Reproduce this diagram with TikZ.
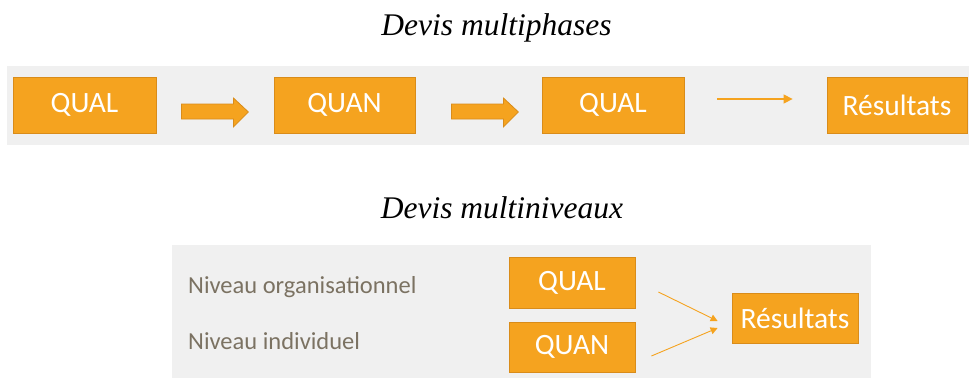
\documentclass[tikz,border=0pt]{standalone}
\usepackage{fontspec}
\setmainfont{Liberation Serif}
\newfontfamily\boxfont{Carlito}
\usetikzlibrary{calc,arrows.meta}
\definecolor{boxfill}{HTML}{F5A31F}
\definecolor{boxline}{HTML}{D98C1A}
\definecolor{panel}{HTML}{F0F0F0}
\definecolor{lvltext}{HTML}{7B7262}
\begin{document}
\begin{tikzpicture}[x=1pt,y=-1pt,
  obox/.style={draw=boxline, line width=0.8pt, fill=boxfill, text=white,
    font=\boxfont\fontsize{29.5}{31}\selectfont, inner sep=0pt, anchor=center},
  blockarrow/.style={draw=boxline, line width=0.8pt, fill=boxfill, line join=miter},
  thinarrow/.style={draw=boxfill, line width=1.2pt, -{Triangle[length=9pt,width=9pt]}},
  title/.style={font=\itshape\fontsize{31.5}{34}\selectfont, anchor=base},
  lvl/.style={font=\boxfont\fontsize{24.5}{26}\selectfont, text=lvltext, anchor=base west, inner sep=0pt}]
\useasboundingbox (0,0) rectangle (969,378);
% panels
\fill[panel] (7,66) rectangle (969,145);
\fill[panel] (172,245) rectangle (871,378);
% titles
\node[title] (t1) at (496.5,35) {Devis multiphases};
\node[title] (t2) at (502,218) {Devis multiniveaux};
% top row
\node[obox, minimum width=143pt, minimum height=56pt] (q1) at (84.5,105) {QUAL};
\node[obox, minimum width=141pt, minimum height=56pt] (n1) at (344.5,105) {QUAN};
\node[obox, minimum width=142pt, minimum height=56pt] (q2) at (613,105) {QUAL};
\node[obox, minimum width=140pt, minimum height=56pt] (r1) at (897,105) {Résultats};
% block arrows
\foreach \a/\s in {q1/25, n1/36}{
  \draw[blockarrow] ($(\a.east)+(\s,-1)$) -- ($(\a.east)+(\s+52,-1)$) -- ($(\a.east)+(\s+52,-7)$)
    -- ($(\a.east)+(\s+67,7)$) -- ($(\a.east)+(\s+52,22)$) -- ($(\a.east)+(\s+52,14)$)
    -- ($(\a.east)+(\s,14)$) -- cycle;
}
\draw[thinarrow] ($(q2.east)+(33,-6)$) -- ($(r1.west)+(-34,-6)$);
% bottom
\node[lvl] (l1) at (188,293) {Niveau organisationnel};
\node[lvl] (l2) at (188,349) {Niveau individuel};
\node[obox, minimum width=126pt, minimum height=51pt] (q3) at (572,282.5) {QUAL};
\node[obox, minimum width=126pt, minimum height=50pt] (n3) at (572,347) {QUAN};
\node[obox, minimum width=126pt, minimum height=50pt] (r3) at (795,318) {Résultats};
\draw[thinarrow, line width=0.9pt, -{Triangle[length=7pt,width=7pt]}] ($(q3.east)+(23,9.5)$) -- ($(r3.west)+(-14,3)$);
\draw[thinarrow, line width=0.9pt, -{Triangle[length=7pt,width=7pt]}] ($(n3.east)+(16,9)$) -- ($(r3.west)+(-14,10)$);
\end{tikzpicture}
\end{document}
